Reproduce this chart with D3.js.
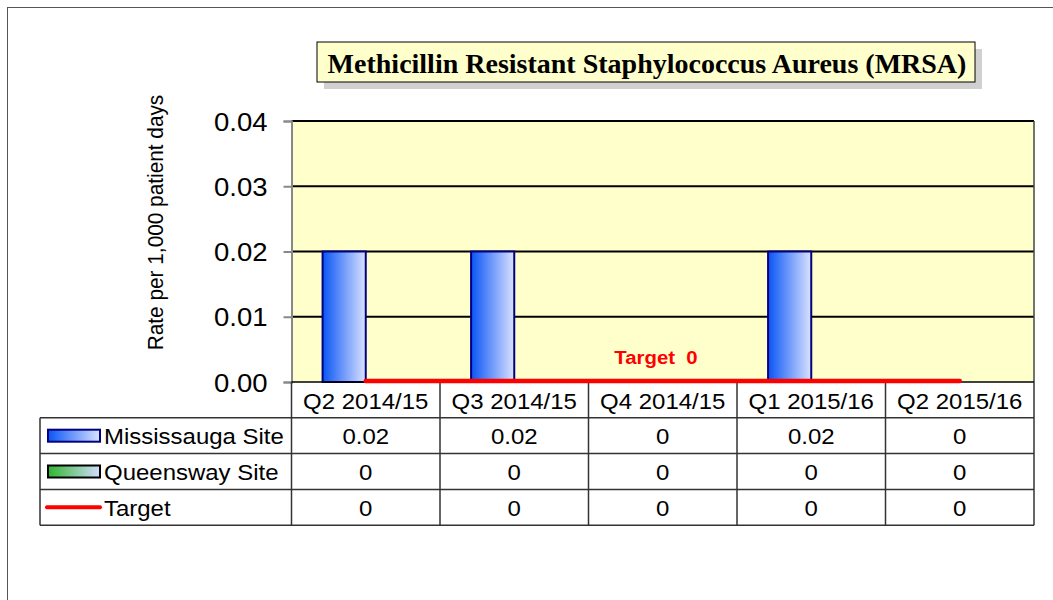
<!DOCTYPE html>
<html lang="en">
<head>
  <meta charset="UTF-8">
  <title>MRSA rate chart</title>
  <script src="https://d3js.org/d3.v7.min.js"></script>
  <style>
    body { margin: 0; padding: 0; background: #fff; }
    svg { display: block; font-family: 'Liberation Sans', Arial, sans-serif; }
    text { white-space: pre; }
  </style>
</head>
<body>
  <div id="chart"></div>
  <script>
    // data
    const categories = ["Q2 2014/15", "Q3 2014/15", "Q4 2014/15", "Q1 2015/16", "Q2 2015/16"];
    const mississauga = [0.02, 0.02, 0, 0.02, 0];
    const queensway = [0, 0, 0, 0, 0];
    const target = [0, 0, 0, 0, 0];
    const yTicks = [0, 0.01, 0.02, 0.03, 0.04];
    const seriesNames = ["Mississauga Site", "Queensway Site", "Target"];
    const title = "Methicillin Resistant Staphylococcus Aureus (MRSA)";
    const yLabel = "Rate per 1,000 patient days";
    const targetLabel = "Target  0";

    const W = 1053, H = 600;
    const plot = { left: 291.5, right: 1034, top: 121, bottom: 382 };
    const rowH = 35.8;
    const tableLeft = 40;
    const sx = 1.09; // source text is slightly wider than tall

    const svg = d3.select("#chart").append("svg")
      .attr("width", W).attr("height", H);

    const defs = svg.append("defs");
    function grad(id, c0, c1) {
      const g = defs.append("linearGradient").attr("id", id)
        .attr("x1", "0%").attr("x2", "100%").attr("y1", "0%").attr("y2", "0%");
      g.append("stop").attr("offset", "0%").attr("stop-color", c0);
      g.append("stop").attr("offset", "100%").attr("stop-color", c1);
    }
    grad("gBlue", "#0a55f5", "#dae2ff");
    grad("gGreen", "#2fb52f", "#d3ddff");

    function txt(x, y, s, size, anchor, opts = {}) {
      return svg.append("text")
        .attr("transform", `translate(${x},${y}) scale(${opts.sx || sx},1)`)
        .attr("text-anchor", anchor)
        .attr("dominant-baseline", "central")
        .attr("font-size", size)
        .attr("font-weight", opts.bold ? "bold" : null)
        .attr("font-family", opts.family || null)
        .attr("fill", opts.fill || "#000")
        .text(s);
    }

    // outer frame
    svg.append("rect").attr("x", 7.5).attr("y", 7.5)
      .attr("width", W + 20).attr("height", H + 20)
      .attr("fill", "none").attr("stroke", "#555").attr("stroke-width", 1);

    const x = d3.scaleBand().domain(categories).range([plot.left, plot.right]);
    const xs = d3.scaleBand().domain(seriesNames.slice(0, 2))
      .range([0, x.bandwidth()]).paddingOuter(0.72);
    const y = d3.scaleLinear().domain([0, 0.04]).range([plot.bottom, plot.top]);

    // plot background
    svg.append("rect")
      .attr("x", plot.left).attr("y", plot.top)
      .attr("width", plot.right - plot.left).attr("height", plot.bottom - plot.top)
      .attr("fill", "#ffffcc");

    // gridlines
    svg.selectAll(".grid").data(yTicks.filter(d => d > 0)).enter()
      .append("line")
      .attr("x1", plot.left).attr("x2", plot.right)
      .attr("y1", d => y(d)).attr("y2", d => y(d))
      .attr("stroke", "#000").attr("stroke-width", 2);

    // right border of plot
    svg.append("line").attr("x1", plot.right).attr("x2", plot.right)
      .attr("y1", plot.top).attr("y2", plot.bottom)
      .attr("stroke", "#444").attr("stroke-width", 1.5);

    // y axis
    const yAxis = svg.append("g")
      .attr("transform", `translate(${plot.left},0)`)
      .call(d3.axisLeft(y).tickValues(yTicks).tickSize(8).tickPadding(15).tickFormat(d3.format(".2f")));
    yAxis.select(".domain").attr("stroke", "#888").attr("stroke-width", 2);
    yAxis.selectAll(".tick line").attr("stroke", "#888").attr("stroke-width", 2);
    yAxis.selectAll(".tick text").remove();
    yTicks.forEach(t => txt(plot.left - 24, y(t) + 1, d3.format(".2f")(t), 25, "end", { sx: 1.1 }));

    // y label
    svg.append("text")
      .attr("transform", `translate(155,${(plot.top + plot.bottom) / 2 - 29}) rotate(-90) scale(1,${sx})`)
      .attr("text-anchor", "middle").attr("dominant-baseline", "central")
      .attr("font-size", 20.8).text(yLabel);

    // bars
    const seriesData = [
      { name: seriesNames[0], values: mississauga, fill: "url(#gBlue)", stroke: "#000080" },
      { name: seriesNames[1], values: queensway, fill: "url(#gGreen)", stroke: "#000" }
    ];
    seriesData.forEach(s => {
      svg.selectAll(null).data(s.values.map((v, i) => ({ cat: categories[i], v }))).enter()
        .append("rect")
        .attr("x", d => x(d.cat) + xs(s.name))
        .attr("y", d => y(d.v))
        .attr("width", xs.bandwidth())
        .attr("height", d => y(0) - y(d.v))
        .attr("fill", s.fill)
        .attr("stroke", s.stroke).attr("stroke-width", 2);
    });

    // title box
    const tb = { x: 317, y: 42, w: 658, h: 40 };
    svg.append("rect").attr("x", tb.x + 7).attr("y", tb.y + 7)
      .attr("width", tb.w).attr("height", tb.h).attr("fill", "#d0d0d0");
    svg.append("rect").attr("x", tb.x).attr("y", tb.y)
      .attr("width", tb.w).attr("height", tb.h)
      .attr("fill", "#ffffcc").attr("stroke", "#000").attr("stroke-width", 1);
    txt(tb.x + tb.w / 2 + 1, tb.y + tb.h / 2 + 1, title, 28, "middle",
      { bold: true, family: "'Liberation Serif', 'Times New Roman', serif", sx: 1.0 });

    // data table
    const rowsTop = plot.bottom;
    const tableBottom = rowsTop + rowH * 4;
    const lineColor = "#333";
    // horizontal lines
    svg.append("line").attr("x1", plot.left).attr("x2", plot.right)
      .attr("y1", rowsTop).attr("y2", rowsTop).attr("stroke", "#000").attr("stroke-width", 1.5);
    [1, 2, 3, 4].forEach(r => {
      svg.append("line").attr("x1", tableLeft).attr("x2", plot.right)
        .attr("y1", rowsTop + r * rowH).attr("y2", rowsTop + r * rowH)
        .attr("stroke", lineColor).attr("stroke-width", 1.5);
    });
    // vertical lines
    svg.append("line").attr("x1", tableLeft).attr("x2", tableLeft)
      .attr("y1", rowsTop + rowH).attr("y2", tableBottom)
      .attr("stroke", lineColor).attr("stroke-width", 1.5);
    const bounds = categories.map(c => x(c)).concat([plot.right]);
    bounds.forEach(b => {
      svg.append("line").attr("x1", b).attr("x2", b)
        .attr("y1", rowsTop).attr("y2", tableBottom)
        .attr("stroke", lineColor).attr("stroke-width", 1.5);
    });

    // target line, on top of the table border
    const line = d3.line()
      .x((d, i) => x(categories[i]) + x.bandwidth() / 2)
      .y(d => y(d) - 1);
    svg.append("path").datum(target)
      .attr("d", line).attr("fill", "none")
      .attr("stroke", "#ff0000").attr("stroke-width", 4.5).attr("stroke-linecap", "round");

    txt(656, 357, targetLabel, 18.5, "middle", { bold: true, fill: "#ff0000", sx: 1.1 });

    // header row
    categories.forEach(c => txt(x(c) + x.bandwidth() / 2, rowsTop + rowH / 2 + 1, c, 22, "middle"));

    // value rows
    const rows = [mississauga, queensway, target];
    rows.forEach((vals, r) => {
      const cy = rowsTop + rowH * (r + 1) + rowH / 2 + 1;
      vals.forEach((v, i) => txt(x(categories[i]) + x.bandwidth() / 2, cy, String(v), 22, "middle"));
      txt(104, cy, seriesNames[r], 22, "start");
    });

    // legend keys
    const keyY = (r) => rowsTop + rowH * (r + 1) + rowH / 2;
    svg.append("rect").attr("x", 48).attr("y", keyY(0) - 6).attr("width", 52).attr("height", 12)
      .attr("fill", "url(#gBlue)").attr("stroke", "#000080").attr("stroke-width", 2);
    svg.append("rect").attr("x", 48).attr("y", keyY(1) - 6).attr("width", 52).attr("height", 12)
      .attr("fill", "url(#gGreen)").attr("stroke", "#000").attr("stroke-width", 2);
    svg.append("line").attr("x1", 47).attr("x2", 100).attr("y1", keyY(2)).attr("y2", keyY(2))
      .attr("stroke", "#ff0000").attr("stroke-width", 4).attr("stroke-linecap", "round");
  </script>
</body>
</html>
